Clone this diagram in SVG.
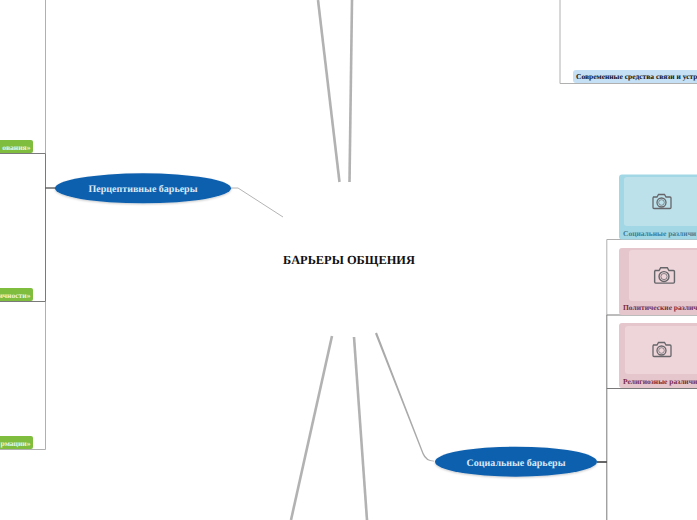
<svg xmlns="http://www.w3.org/2000/svg" width="697" height="520" viewBox="0 0 697 520">
<defs>
<filter id="s" x="-5%" y="-15%" width="110%" height="135%"><feDropShadow dx="0" dy="1" stdDeviation="1" flood-color="#000" flood-opacity="0.22"/></filter>
<g id="cam" fill="none" stroke="#66666a" stroke-width="1.300">
<path d="M-8.5,-5 h4 l1.5,-2.5 h6 l1.5,2.5 h4 a1,1 0 0 1 1,1 v9.500 a1,1 0 0 1 -1,1 h-16 a1,1 0 0 1 -1,-1 v-9.500 a1,1 0 0 1 1,-1 z"/>
<circle cx="0" cy="0.500" r="4.500"/><circle cx="0" cy="0.500" r="2.800" stroke-width="0.700"/>
</g>
</defs>
<style>
text{font-family:"Liberation Serif","Times New Roman",serif;font-weight:bold;text-rendering:geometricPrecision}
.oval{fill:#0f60ae;filter:url(#s)}
.ot{fill:#dbe9f7;font-size:10px;text-anchor:middle}
.green{fill:#7fbd3e}
.gt{fill:#eef7e2;font-size:7.600px;text-anchor:end}
.c1{fill:none;stroke:#b2b2b2;stroke-width:2.600}
.c2{fill:none;stroke:#b4b4b4;stroke-width:1}
.t1{fill:none;stroke:#b0b0b0;stroke-width:1}
.t2{fill:none;stroke:#7a7a7a;stroke-width:1}
.t3{fill:none;stroke:#444;stroke-width:1.200}
.sm{font-size:7.500px}
</style>
<rect width="697" height="520" fill="#fff"/>
<g id="connectors">
<path class="c1" d="M318,0 L339.500,182"/>
<path class="c1" d="M352,0 L349.500,182"/>
<path class="c1" d="M332,336 L291,520"/>
<path class="c1" d="M354,337 L367,520"/>
<path d="M375,333.500 L377,332.500 L423.500,453 Q427,460.800 434,460.800 V461.600 Q425.500,461.600 422.500,454 Z" fill="#aaa"/>
<path class="c2" d="M231,188 H238 L283,217"/>
<path class="t1" d="M45.500,0 V153.500 M45.500,301.500 V449.500 H0"/>
<path class="t2" d="M0,153.500 H45.500 V301.500 H0"/>
<path class="t3" d="M45.500,188 H56"/>
<path class="t1" d="M560,0 V83.500 H697"/>
<path class="t1" d="M697,239.500 H606.800 V315"/>
<path class="t2" d="M606.800,315 V520 M606.800,315 H697 M606.800,388.500 H697"/>
<path d="M597,462 H607" fill="none" stroke="#555" stroke-width="1.800"/>
</g>
<g id="node-center"><text x="349" y="264" font-size="12.400" text-anchor="middle" fill="#111">БАРЬЕРЫ ОБЩЕНИЯ</text></g>
<g id="node-perceptive"><ellipse class="oval" cx="143" cy="188.300" rx="88" ry="15"/><text class="ot" x="143" y="192">Перцептивные барьеры</text></g>
<g id="node-social"><ellipse class="oval" cx="516" cy="461.700" rx="81" ry="15"/><text class="ot" x="516" y="466">Социальные барьеры</text></g>
<g id="node-green1"><rect class="green" x="-6" y="140" width="39" height="13" rx="2"/><text class="gt" x="30.500" y="149.500">ования»</text></g>
<g id="node-green2"><rect class="green" x="-6" y="288" width="39" height="13" rx="2"/><text class="gt" x="30.500" y="297.500">ичности»</text></g>
<g id="node-green3"><rect class="green" x="-6" y="436" width="39" height="13" rx="2"/><text class="gt" x="30.500" y="445.500">рмации»</text></g>
<g id="node-devices"><path d="M576,70 H697 V83 H576 a3,3 0 0 1 -3,-3 V73 a3,3 0 0 1 3,-3z" fill="#c5e0f5"/><text class="sm" x="576" y="79" fill="#111">Современные средства связи и устр</text></g>
<g id="node-soc-diff"><rect x="619" y="174.500" width="90" height="65" rx="3" fill="#a2d8e5"/><rect x="624" y="177" width="85" height="49" rx="3" fill="#bde1ea"/><use href="#cam" x="661.500" y="202"/><text class="sm" x="623" y="236" fill="#3f7a94">Социальные различи</text></g>
<g id="node-pol-diff"><rect x="619" y="248" width="90" height="67" rx="3" fill="#e5c6cd"/><rect x="629" y="250" width="80" height="51" rx="3" fill="#edd5da"/><use href="#cam" transform="translate(664 276) scale(1.100)"/><text class="sm" x="623" y="310" fill="#7a2a40">Политические различ</text></g>
<g id="node-rel-diff"><rect x="619" y="323" width="90" height="65" rx="3" fill="#e5c6cd"/><rect x="625" y="326" width="84" height="48" rx="3" fill="#edd5da"/><use href="#cam" x="661.500" y="350"/><text class="sm" x="623" y="384" fill="#7a2a40">Религиозные различи</text></g>
</svg>
